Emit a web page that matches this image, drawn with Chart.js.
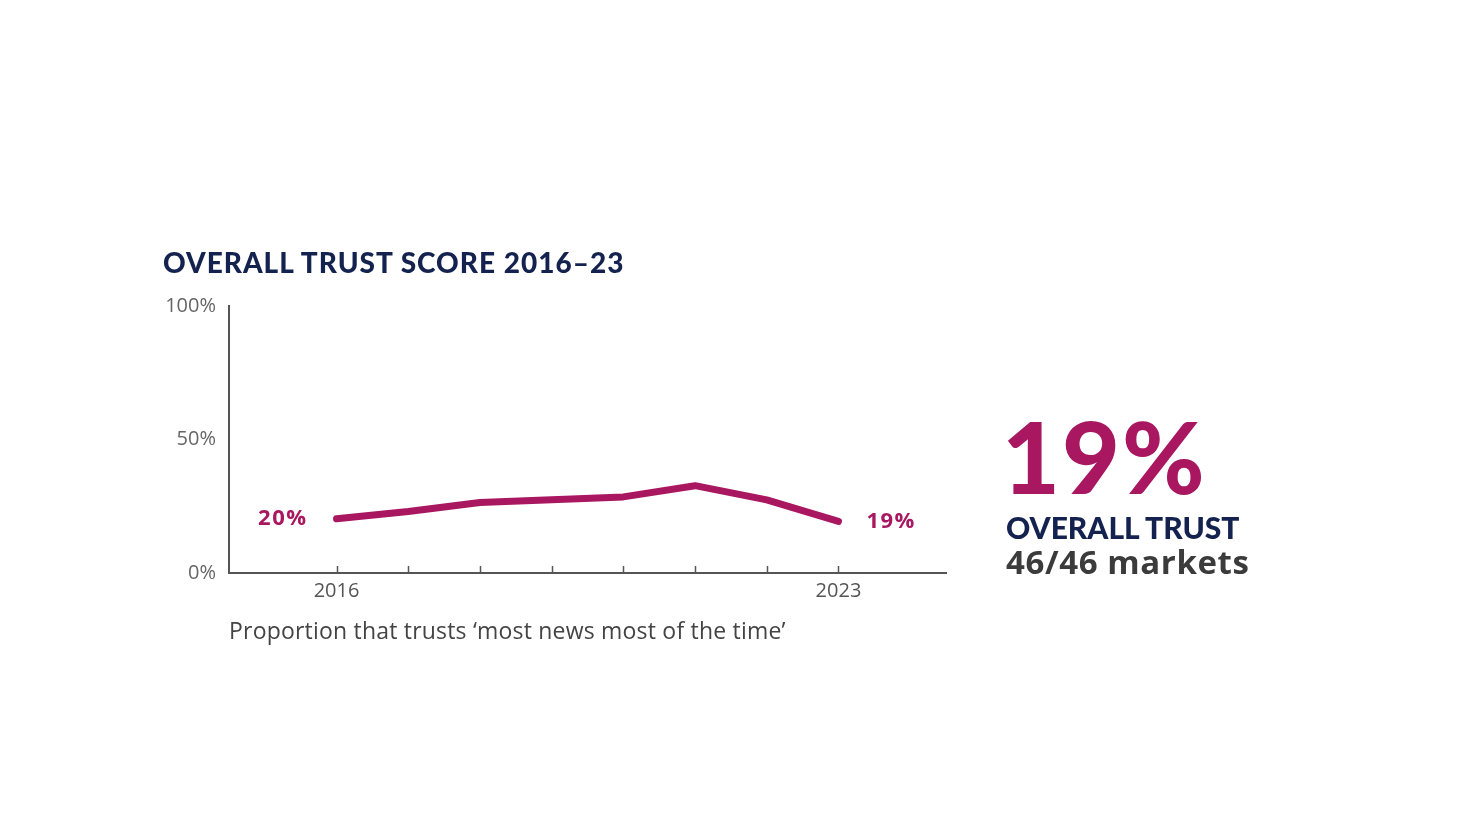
<!DOCTYPE html>
<html>
<head>
<meta charset="utf-8">
<script src="https://cdn.jsdelivr.net/npm/chart.js@4.4.1/dist/chart.umd.min.js"></script>
<style>
  html,body{margin:0;padding:0;background:#fff;overflow:hidden;}
  #wrap{position:absolute;left:0;top:0;width:1460px;height:820px;}
  .txt{position:absolute;white-space:nowrap;}
  #title{left:163px;top:245px;font:900 28px Lato,sans-serif;color:#14224f;letter-spacing:1px;}
  #sub{left:229px;top:614px;font:400 23px "Open Sans",sans-serif;color:#444;letter-spacing:0.2px;}
  #big{left:1002px;top:395px;font:900 100px Lato,sans-serif;color:#a8175f;letter-spacing:2px;line-height:1.2;}
  #lbl1{left:1006px;top:509px;font:900 30px Lato,sans-serif;color:#14224f;}
  #lbl2{left:1006px;top:539px;font:700 33px "Open Sans",sans-serif;color:#3b3b3b;letter-spacing:0.6px;}
</style>
</head>
<body>
<div id="wrap"><canvas id="c"></canvas></div>
<div class="txt" id="title">OVERALL TRUST SCORE 2016–23</div>
<div class="txt" id="sub">Proportion that trusts ‘most news most of the time’</div>
<div class="txt" id="big">19%</div>
<div class="txt" id="lbl1">OVERALL TRUST</div>
<div class="txt" id="lbl2">46/46 markets</div>
<script>
// данные
const years = [2016, 2017, 2018, 2019, 2020, 2021, 2022, 2023];
const trust = [20.3, 23.0, 26.4, 27.4, 28.5, 32.7, 27.4, 19.3];
const yTicks = [0, 50, 100];

const MAGENTA = '#a8175f';
const AXIS = '#555';

// короткие засечки внутрь графика
const innerTicks = {
  id:'innerTicks',
  afterDraw(chart){
    const x = chart.scales.x, ctx = chart.ctx, b = chart.chartArea.bottom;
    ctx.save();
    ctx.strokeStyle = AXIS; ctx.lineWidth = 1.5;
    years.forEach(v=>{
      const px = Math.round(x.getPixelForValue(v)) + 0.5;
      ctx.beginPath(); ctx.moveTo(px, b); ctx.lineTo(px, b - 7); ctx.stroke();
    });
    ctx.restore();
  }
};

// подписи первого и последнего значения
const endLabels = {
  id:'endLabels',
  afterDatasetsDraw(chart){
    const pts = chart.getDatasetMeta(0).data, ctx = chart.ctx;
    const first = pts[0], last = pts[pts.length-1];
    ctx.save();
    ctx.fillStyle = MAGENTA;
    ctx.font = '700 22px "Open Sans", sans-serif';
    ctx.letterSpacing = '1.5px';
    ctx.textBaseline = 'middle';
    ctx.textAlign = 'right';
    ctx.fillText(Math.round(trust[0]) + '%', first.x - 29, first.y);
    ctx.textAlign = 'left';
    ctx.fillText(Math.round(trust[trust.length-1]) + '%', last.x + 28, last.y);
    ctx.restore();
  }
};

new Chart(document.getElementById('c'), {
  type:'line',
  data:{
    datasets:[{
      data: years.map((y,i)=>({x:y, y:trust[i]})),
      borderColor: MAGENTA,
      borderWidth: 7,
      borderCapStyle:'round',
      borderJoinStyle:'round',
      pointRadius:0,
      tension:0,
      fill:false
    }]
  },
  options:{
    responsive:true,
    maintainAspectRatio:false,
    animation:false,
    layout:{padding:{left:0, right:514, top:306, bottom:217}},
    plugins:{legend:{display:false}, tooltip:{enabled:false}},
    scales:{
      x:{
        type:'linear', min:2014.5, max:2024.5,
        afterBuildTicks: s=>{ s.ticks = years.map(v=>({value:v})); },
        afterFit: s=>{ s.height = 30; },
        grid:{display:false, drawTicks:false},
        border:{display:true, color:AXIS, width:2},
        ticks:{
          padding:6, autoSkip:false, maxRotation:0,
          color:'#555', font:{family:'"Open Sans", sans-serif', size:20},
          callback:(v)=> (v===years[0] || v===years[years.length-1]) ? String(v) : ''
        }
      },
      y:{
        min:0, max:100,
        afterBuildTicks: s=>{ s.ticks = yTicks.map(v=>({value:v})); },
        afterFit: s=>{ s.width = 229; },
        grid:{display:false, drawTicks:false},
        border:{display:true, color:AXIS, width:2},
        ticks:{
          padding:13,
          color:'#666', font:{family:'"Open Sans", sans-serif', size:20},
          callback:(v)=> v + '%'
        }
      }
    }
  },
  plugins:[innerTicks, endLabels]
});
</script>
</body>
</html>
